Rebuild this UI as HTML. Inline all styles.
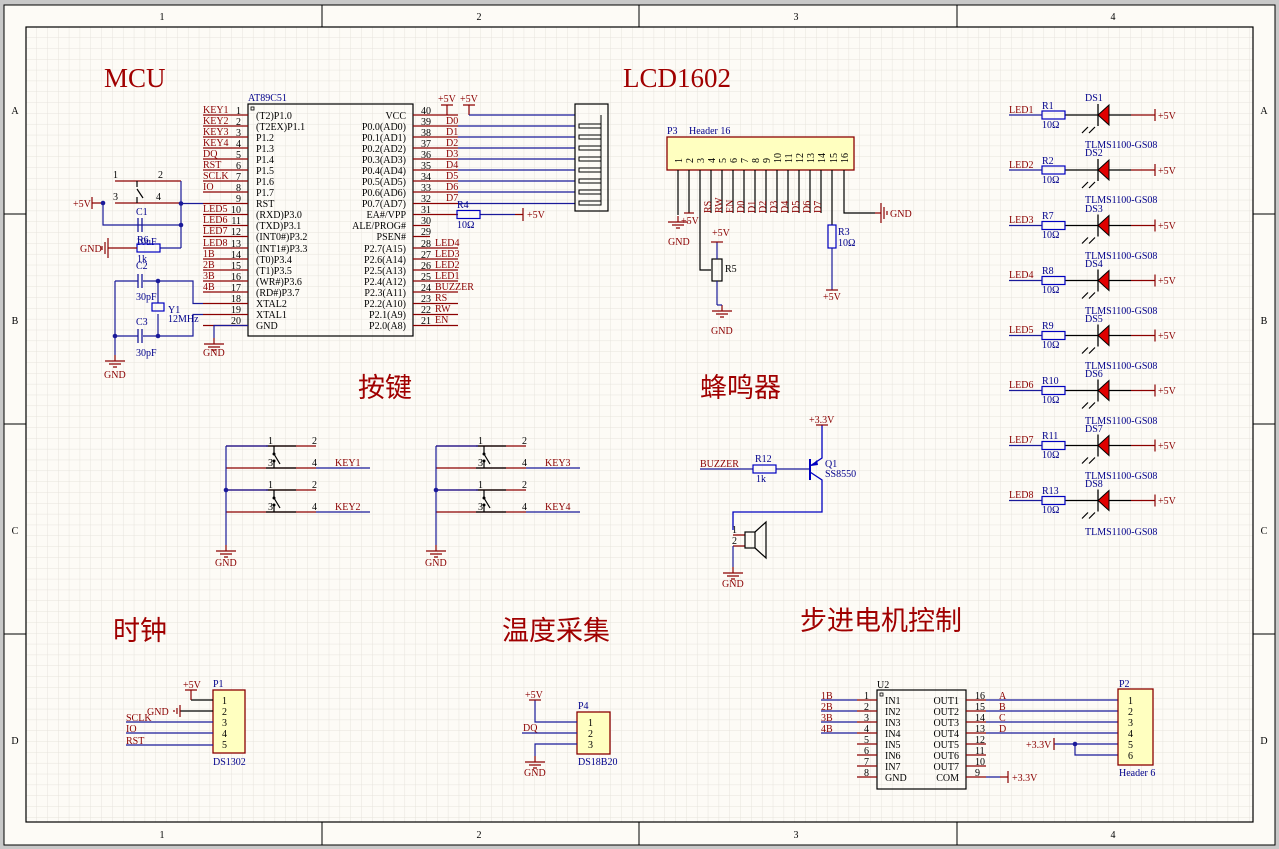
<!DOCTYPE html>
<html><head><meta charset="utf-8"><style>
html,body{margin:0;padding:0;background:#c8c8c8}
svg{display:block}
text{font-family:"Liberation Serif","Noto Serif CJK SC",serif;font-size:10px}
.r{fill:#8b0000}.b{fill:#00008b}.k{fill:#000}
.t{font-family:"Liberation Serif","Noto Serif CJK SC",serif;font-size:27px;fill:#a00000}
.tc{font-family:"Noto Sans CJK SC","WenQuanYi Zen Hei",sans-serif;font-size:27px;fill:#a00000}
.w{stroke:#1a1a9a;stroke-width:1.2;fill:none}
.p{stroke:#8b0000;stroke-width:1.2;fill:none}
.k1{stroke:#000;stroke-width:1.2;fill:none}
.bl{stroke:#0000c0;stroke-width:1.3;fill:none}
.y{fill:#ffffc0;stroke:#8b0000;stroke-width:1.3}
.m{font-family:"Liberation Mono","Noto Sans CJK SC",monospace;font-size:10px}
</style></head><body>
<svg width="1279" height="849" viewBox="0 0 1279 849" xmlns="http://www.w3.org/2000/svg">
<defs>
<pattern id="g" x="26" y="27" width="10.83" height="10.83" patternUnits="userSpaceOnUse">
<path d="M10.83 0V10.83H0" fill="none" stroke="#e6e3dc" stroke-width="1"/></pattern>
<g id="gnd"><path d="M0 0V6M-10 6H10M-6 9H6M-2 12H2" class="p"/></g>
<g id="gndh"><path d="M0 0H6M6 -10V10M9 -6V6M12 -2V2" class="p"/></g>
<g id="gndl"><path d="M0 0H-6M-6 -10V10M-9 -6V6M-12 -2V2" class="p"/></g>
<g id="res"><rect x="0" y="-4" width="23" height="8" fill="none" stroke="#0000c0" stroke-width="1.2"/></g>
<g id="led"><path d="M-33 0H0M11 0H33" class="k1"/><path d="M0 -11V11" stroke="#000" stroke-width="1.3"/><path d="M0 0L11 -10V10Z" fill="#e00000" stroke="#000" stroke-width="1"/><path d="M33 0H57" class="p"/><path d="M57 -6V6" class="p"/><path d="M-10 12l-6 6M-3 12l-6 6" stroke="#000" stroke-width="1.2"/></g>
<g id="sw"><path d="M0 0H90M0 22H90" class="p"/><path d="M40 0H70M40 22H70" class="k1"/><path d="M48 0V7M48 16V22M48 8L54 18" class="k1"/><circle cx="48" cy="8" r="1.5"/><circle cx="48" cy="15" r="1.5"/></g>
</defs>
<rect x="4" y="5" width="1271" height="840" fill="#fdfbf6" stroke="#000" stroke-width="1"/>
<rect x="26" y="27" width="1227" height="795" fill="url(#g)" stroke="#000" stroke-width="1.2"/>
<path d="M322 5V27M639 5V27M957 5V27M322 822V845M639 822V845M957 822V845M4 214H26M4 424H26M4 634H26M1253 214H1275M1253 424H1275M1253 634H1275" stroke="#000"/>
<g class="k" text-anchor="middle"><text x="162" y="20">1</text><text x="479" y="20">2</text><text x="796" y="20">3</text><text x="1113" y="20">4</text><text x="162" y="838">1</text><text x="479" y="838">2</text><text x="796" y="838">3</text><text x="1113" y="838">4</text>
<text x="15" y="114">A</text><text x="15" y="324">B</text><text x="15" y="534">C</text><text x="15" y="744">D</text><text x="1264" y="114">A</text><text x="1264" y="324">B</text><text x="1264" y="534">C</text><text x="1264" y="744">D</text></g>

<text x="104" y="87" class="t">MCU</text><text x="623" y="87" class="t">LCD1602</text>
<text x="358" y="397" class="tc">按键</text><text x="700" y="397" class="tc">蜂鸣器</text>
<text x="113" y="640" class="tc">时钟</text><text x="502" y="640" class="tc">温度采集</text><text x="800" y="630" class="tc">步进电机控制</text>

<!-- AT89C51 -->
<rect x="248" y="104" width="165" height="232" fill="none" stroke="#000" stroke-width="1.2"/>
<rect x="251" y="107" width="3" height="3" fill="none" stroke="#000" stroke-width="0.8"/>
<text x="248" y="101" class="b">AT89C51</text>
<path class="p" d="M203 115H248M203 126H248M203 137H248M203 148H248M203 159H248M203 170H248M203 181H248M203 192H248M203 203.5H248M203 214.5H248M203 225.5H248M203 236.5H248M203 248H248M203 259H248M203 270H248M203 281H248M203 292H248M203 303.5H248M203 314.5H248M203 325.5H248"/>
<path class="p" d="M413 115H458M413 126H458M413 137H458M413 148H458M413 159H458M413 170H458M413 181H458M413 192H458M413 203.5H458M413 214.5H458M413 225.5H430M413 236.5H430M413 248H458M413 259H458M413 270H458M413 281H458M413 292H458M413 303.5H458M413 314.5H458M413 325.5H458"/>
<g class="r"><text x="203" y="113">KEY1</text><text x="203" y="124">KEY2</text><text x="203" y="135">KEY3</text><text x="203" y="146">KEY4</text><text x="203" y="157">DQ</text><text x="203" y="168">RST</text><text x="203" y="179">SCLK</text><text x="203" y="190">IO</text><text x="203" y="212">LED5</text><text x="203" y="223">LED6</text><text x="203" y="234">LED7</text><text x="203" y="246">LED8</text><text x="203" y="257">1B</text><text x="203" y="268">2B</text><text x="203" y="279">3B</text><text x="203" y="290">4B</text>
<text x="446" y="124">D0</text><text x="446" y="135">D1</text><text x="446" y="146">D2</text><text x="446" y="157">D3</text><text x="446" y="168">D4</text><text x="446" y="179">D5</text><text x="446" y="190">D6</text><text x="446" y="201">D7</text>
<text x="435" y="246">LED4</text><text x="435" y="257">LED3</text><text x="435" y="268">LED2</text><text x="435" y="279">LED1</text><text x="435" y="290">BUZZER</text><text x="435" y="301">RS</text><text x="435" y="312">RW</text><text x="435" y="323">EN</text></g>
<g class="k" text-anchor="end"><text x="241" y="114">1</text><text x="241" y="125">2</text><text x="241" y="136">3</text><text x="241" y="147">4</text><text x="241" y="158">5</text><text x="241" y="169">6</text><text x="241" y="180">7</text><text x="241" y="191">8</text><text x="241" y="202">9</text><text x="241" y="213">10</text><text x="241" y="224">11</text><text x="241" y="235">12</text><text x="241" y="247">13</text><text x="241" y="258">14</text><text x="241" y="269">15</text><text x="241" y="280">16</text><text x="241" y="291">17</text><text x="241" y="302">18</text><text x="241" y="313">19</text><text x="241" y="324">20</text></g>
<g class="k"><text x="421" y="114">40</text><text x="421" y="125">39</text><text x="421" y="136">38</text><text x="421" y="147">37</text><text x="421" y="158">36</text><text x="421" y="169">35</text><text x="421" y="180">34</text><text x="421" y="191">33</text><text x="421" y="202">32</text><text x="421" y="213">31</text><text x="421" y="224">30</text><text x="421" y="235">29</text><text x="421" y="247">28</text><text x="421" y="258">27</text><text x="421" y="269">26</text><text x="421" y="280">25</text><text x="421" y="291">24</text><text x="421" y="302">23</text><text x="421" y="313">22</text><text x="421" y="324">21</text></g>
<g class="k m"><text x="256" y="119">(T2)P1.0</text><text x="256" y="130">(T2EX)P1.1</text><text x="256" y="141">P1.2</text><text x="256" y="152">P1.3</text><text x="256" y="163">P1.4</text><text x="256" y="174">P1.5</text><text x="256" y="185">P1.6</text><text x="256" y="196">P1.7</text><text x="256" y="207">RST</text><text x="256" y="218">(RXD)P3.0</text><text x="256" y="229">(TXD)P3.1</text><text x="256" y="240">(INT0#)P3.2</text><text x="256" y="252">(INT1#)P3.3</text><text x="256" y="263">(T0)P3.4</text><text x="256" y="274">(T1)P3.5</text><text x="256" y="285">(WR#)P3.6</text><text x="256" y="296">(RD#)P3.7</text><text x="256" y="307">XTAL2</text><text x="256" y="318">XTAL1</text><text x="256" y="329">GND</text></g>
<g class="k m" text-anchor="end"><text x="406" y="119">VCC</text><text x="406" y="130">P0.0(AD0)</text><text x="406" y="141">P0.1(AD1)</text><text x="406" y="152">P0.2(AD2)</text><text x="406" y="163">P0.3(AD3)</text><text x="406" y="174">P0.4(AD4)</text><text x="406" y="185">P0.5(AD5)</text><text x="406" y="196">P0.6(AD6)</text><text x="406" y="207">P0.7(AD7)</text><text x="406" y="218">EA#/VPP</text><text x="406" y="229">ALE/PROG#</text><text x="406" y="240">PSEN#</text><text x="406" y="252">P2.7(A15)</text><text x="406" y="263">P2.6(A14)</text><text x="406" y="274">P2.5(A13)</text><text x="406" y="285">P2.4(A12)</text><text x="406" y="296">P2.3(A11)</text><text x="406" y="307">P2.2(A10)</text><text x="406" y="318">P2.1(A9)</text><text x="406" y="329">P2.0(A8)</text></g>
<path class="p" d="M447 115V105M441 105H453M469 115V105M463 105H475"/>
<text x="438" y="102" class="r">+5V</text><text x="460" y="102" class="r">+5V</text>
<path class="w" d="M469 115H575M458 126H575M458 137H575M458 148H575M458 159H575M458 170H575M458 181H575M458 192H575M458 203.5H575"/>
<rect x="575" y="104" width="33" height="107" fill="none" stroke="#000" stroke-width="1.2"/>
<g fill="none" stroke="#000" stroke-width="1"><rect x="579" y="124" width="22" height="4"/><rect x="579" y="135" width="22" height="4"/><rect x="579" y="146" width="22" height="4"/><rect x="579" y="157" width="22" height="4"/><rect x="579" y="168" width="22" height="4"/><rect x="579" y="179" width="22" height="4"/><rect x="579" y="190" width="22" height="4"/><rect x="579" y="201" width="22" height="4"/><path d="M601 115V205"/></g>
<path class="w" d="M480 214.5H515"/><use href="#res" x="457" y="214.5"/>
<path class="p" d="M515 214.5H523M523 208V221"/><text x="527" y="218" class="r">+5V</text>
<text x="457" y="208" class="b">R4</text><text x="457" y="228" class="b">10Ω</text>
<path class="p" d="M115 181H181M115 203H181"/>
<path class="k1" d="M137 181V187M137 197V203M137 189L143 198"/>
<text x="113" y="178" class="k">1</text><text x="158" y="178" class="k">2</text><text x="113" y="200" class="k">3</text><text x="156" y="200" class="k">4</text>
<path class="w" d="M181 181V248M181 203.5H203M103 203V225H181M160 248H181M115 281H138M143 281H193V303.5H203M115 281V336H138M143 336H193V314.5H203"/>
<path class="p" d="M92 203H103M92 197V209"/><text x="73" y="207" class="r">+5V</text>
<circle cx="103" cy="203" r="2.3" fill="#1a1a9a"/><circle cx="181" cy="203.5" r="2.3" fill="#1a1a9a"/><circle cx="181" cy="225" r="2.3" fill="#1a1a9a"/><circle cx="158" cy="281" r="2.3" fill="#1a1a9a"/><circle cx="158" cy="336" r="2.3" fill="#1a1a9a"/><circle cx="115" cy="336" r="2.3" fill="#1a1a9a"/>
<path d="M138 218V232M142 218V232M138 274V288M142 274V288M138 329V343M142 329V343" stroke="#1a1a9a" stroke-width="1.3"/>
<text x="136" y="215" class="b">C1</text><text x="136" y="245" class="b">10uF</text><text x="136" y="269" class="b">C2</text><text x="136" y="300" class="b">30pF</text><text x="136" y="325" class="b">C3</text><text x="136" y="356" class="b">30pF</text>
<use href="#res" x="137" y="248"/><text x="137" y="243" class="b">R6</text><text x="137" y="262" class="b">1k</text>
<path class="p" d="M114 248H137"/><use href="#gndl" x="114" y="248"/><text x="80" y="252" class="r">GND</text>
<path class="w" d="M158 281V303M158 314V336"/><rect x="152" y="303" width="12" height="8" fill="none" stroke="#0000c0" stroke-width="1.2"/>
<text x="168" y="313" class="b">Y1</text><text x="168" y="322" class="b">12MHz</text>
<path class="w" d="M115 336V355"/><use href="#gnd" x="115" y="355"/><text x="104" y="378" class="r">GND</text>
<path class="w" d="M248 325.5H214V338"/><use href="#gnd" x="214" y="338"/><text x="203" y="356" class="r">GND</text>
<rect x="667" y="137" width="187" height="33" class="y"/>
<text x="667" y="134" class="b">P3</text><text x="689" y="134" class="b">Header 16</text>
<g class="k" font-size="9">
<text transform="translate(682,163) rotate(-90)">1</text><text transform="translate(693,163) rotate(-90)">2</text><text transform="translate(704,163) rotate(-90)">3</text><text transform="translate(715,163) rotate(-90)">4</text><text transform="translate(726,163) rotate(-90)">5</text><text transform="translate(737,163) rotate(-90)">6</text><text transform="translate(748,163) rotate(-90)">7</text><text transform="translate(759,163) rotate(-90)">8</text><text transform="translate(770,163) rotate(-90)">9</text><text transform="translate(781,163) rotate(-90)">10</text><text transform="translate(792,163) rotate(-90)">11</text><text transform="translate(803,163) rotate(-90)">12</text><text transform="translate(814,163) rotate(-90)">13</text><text transform="translate(825,163) rotate(-90)">14</text><text transform="translate(837,163) rotate(-90)">15</text><text transform="translate(848,163) rotate(-90)">16</text></g>
<path class="k1" d="M678 170V215M689 170V213M700 170V270H711M711 170V213M722 170V213M733 170V213M744 170V213M755 170V213M766 170V213M777 170V213M788 170V213M799 170V213M810 170V213M821 170V213M832 170V225M844 170V213H875"/>
<use href="#gnd" x="678" y="216"/><text x="668" y="245" class="r">GND</text>
<path class="p" d="M684 213H694"/><text x="681" y="224" class="r">+5V</text>
<g class="r"><text transform="translate(711,213) rotate(-90)">RS</text><text transform="translate(722,213) rotate(-90)">RW</text><text transform="translate(733,213) rotate(-90)">EN</text><text transform="translate(744,213) rotate(-90)">D0</text><text transform="translate(755,213) rotate(-90)">D1</text><text transform="translate(766,213) rotate(-90)">D2</text><text transform="translate(777,213) rotate(-90)">D3</text><text transform="translate(788,213) rotate(-90)">D4</text><text transform="translate(799,213) rotate(-90)">D5</text><text transform="translate(810,213) rotate(-90)">D6</text><text transform="translate(821,213) rotate(-90)">D7</text></g>
<rect x="828" y="225" width="8" height="23" fill="none" stroke="#0000c0" stroke-width="1.2"/>
<text x="838" y="235" class="b">R3</text><text x="838" y="246" class="b">10Ω</text>
<path class="w" d="M832 248V290"/><path class="p" d="M826 290H838"/><text x="823" y="300" class="r">+5V</text>
<use href="#gndh" x="875" y="213"/><text x="890" y="217" class="r">GND</text>
<rect x="712" y="259" width="10" height="22" fill="none" stroke="#000" stroke-width="1.2"/><text x="725" y="272" class="k" font-size="7">R5</text>
<path class="w" d="M717 259V242M717 281V305"/><path class="p" d="M711 242H723"/><text x="712" y="236" class="r">+5V</text>
<use href="#gnd" x="722" y="305"/><path class="w" d="M717 305H722"/><text x="711" y="334" class="r">GND</text>
<g>
<use href="#led" x="1098" y="115"/><use href="#led" x="1098" y="170"/><use href="#led" x="1098" y="225.5"/><use href="#led" x="1098" y="280.5"/><use href="#led" x="1098" y="335.5"/><use href="#led" x="1098" y="390.5"/><use href="#led" x="1098" y="445.5"/><use href="#led" x="1098" y="500.5"/>
<use href="#res" x="1042" y="115"/><use href="#res" x="1042" y="170"/><use href="#res" x="1042" y="225.5"/><use href="#res" x="1042" y="280.5"/><use href="#res" x="1042" y="335.5"/><use href="#res" x="1042" y="390.5"/><use href="#res" x="1042" y="445.5"/><use href="#res" x="1042" y="500.5"/>
<path class="w" d="M1009 115H1042M1009 170H1042M1009 225.5H1042M1009 280.5H1042M1009 335.5H1042M1009 390.5H1042M1009 445.5H1042M1009 500.5H1042"/>
</g>
<g class="r"><text x="1009" y="113">LED1</text><text x="1009" y="168">LED2</text><text x="1009" y="223">LED3</text><text x="1009" y="278">LED4</text><text x="1009" y="333">LED5</text><text x="1009" y="388">LED6</text><text x="1009" y="443">LED7</text><text x="1009" y="498">LED8</text>
<text x="1158" y="119">+5V</text><text x="1158" y="174">+5V</text><text x="1158" y="229">+5V</text><text x="1158" y="284">+5V</text><text x="1158" y="339">+5V</text><text x="1158" y="394">+5V</text><text x="1158" y="449">+5V</text><text x="1158" y="504">+5V</text></g>
<g class="b"><text x="1042" y="109">R1</text><text x="1042" y="164">R2</text><text x="1042" y="219">R7</text><text x="1042" y="274">R8</text><text x="1042" y="329">R9</text><text x="1042" y="384">R10</text><text x="1042" y="439">R11</text><text x="1042" y="494">R13</text>
<text x="1042" y="128">10Ω</text><text x="1042" y="183">10Ω</text><text x="1042" y="238">10Ω</text><text x="1042" y="293">10Ω</text><text x="1042" y="348">10Ω</text><text x="1042" y="403">10Ω</text><text x="1042" y="458">10Ω</text><text x="1042" y="513">10Ω</text>
<text x="1085" y="101">DS1</text><text x="1085" y="156">DS2</text><text x="1085" y="212">DS3</text><text x="1085" y="267">DS4</text><text x="1085" y="322">DS5</text><text x="1085" y="377">DS6</text><text x="1085" y="432">DS7</text><text x="1085" y="487">DS8</text>
<text x="1085" y="148">TLMS1100-GS08</text><text x="1085" y="203">TLMS1100-GS08</text><text x="1085" y="259">TLMS1100-GS08</text><text x="1085" y="314">TLMS1100-GS08</text><text x="1085" y="369">TLMS1100-GS08</text><text x="1085" y="424">TLMS1100-GS08</text><text x="1085" y="479">TLMS1100-GS08</text><text x="1085" y="535">TLMS1100-GS08</text></g>
<use href="#sw" x="226" y="446"/><use href="#sw" x="226" y="490"/><use href="#sw" x="436" y="446"/><use href="#sw" x="436" y="490"/>
<path class="w" d="M226 446H268M226 446V545M226 490H268M316 468H370M316 512H370M436 446H478M436 446V545M436 490H478M526 468H580M526 512H580"/>
<circle cx="226" cy="490" r="2.3" fill="#1a1a9a"/><circle cx="436" cy="490" r="2.3" fill="#1a1a9a"/>
<g class="k"><text x="268" y="444">1</text><text x="312" y="444">2</text><text x="268" y="466">3</text><text x="312" y="466">4</text><text x="268" y="488">1</text><text x="312" y="488">2</text><text x="268" y="510">3</text><text x="312" y="510">4</text>
<text x="478" y="444">1</text><text x="522" y="444">2</text><text x="478" y="466">3</text><text x="522" y="466">4</text><text x="478" y="488">1</text><text x="522" y="488">2</text><text x="478" y="510">3</text><text x="522" y="510">4</text></g>
<g class="r"><text x="335" y="466">KEY1</text><text x="335" y="510">KEY2</text><text x="545" y="466">KEY3</text><text x="545" y="510">KEY4</text></g>
<use href="#gnd" x="226" y="545"/><text x="215" y="566" class="r">GND</text><use href="#gnd" x="436" y="545"/><text x="425" y="566" class="r">GND</text>
<text x="700" y="467" class="r">BUZZER</text><path class="w" d="M700 469H753M776 469H810"/><use href="#res" x="753" y="469"/>
<text x="755" y="462" class="b">R12</text><text x="756" y="482" class="b">1k</text>
<path d="M810 459V480" stroke="#0000c0" stroke-width="2"/><path class="bl" d="M810 466L822 458V425M810 472L822 480V512H733V530"/><path d="M811 466l6-6 1 5z" fill="#0000c0"/>
<path class="p" d="M816 425H828"/><text x="809" y="423" class="r">+3.3V</text>
<text x="825" y="467" class="b">Q1</text><text x="825" y="477" class="b">SS8550</text>
<path class="p" d="M733 535H745M733 546H745"/><path class="w" d="M733 546V567"/>
<rect x="745" y="532" width="10" height="16" fill="none" stroke="#000" stroke-width="1.2"/><path d="M755 532L766 522V558L755 548" fill="none" stroke="#000" stroke-width="1.2"/>
<text x="732" y="533" class="k">1</text><text x="732" y="544" class="k">2</text>
<use href="#gnd" x="733" y="567"/><text x="722" y="587" class="r">GND</text>
<rect x="213" y="690" width="32" height="63" class="y"/>
<text x="213" y="687" class="b">P1</text><text x="213" y="765" class="b">DS1302</text>
<g class="k"><text x="222" y="704">1</text><text x="222" y="715">2</text><text x="222" y="726">3</text><text x="222" y="737">4</text><text x="222" y="748">5</text></g>
<path class="k1" d="M191 700H213M180 711H213"/><path class="p" d="M191 690V700M185 690H197"/><text x="183" y="688" class="r">+5V</text>
<path class="p" d="M180 705V717M177 708V714M174 710V712"/><text x="147" y="715" class="r">GND</text>
<path class="w" d="M126 722H213M126 733H213M126 745H213"/>
<g class="r"><text x="126" y="721">SCLK</text><text x="126" y="732">IO</text><text x="126" y="744">RST</text></g>
<rect x="577" y="712" width="33" height="42" class="y"/>
<text x="578" y="709" class="b">P4</text><text x="578" y="765" class="b">DS18B20</text>
<g class="k"><text x="588" y="726">1</text><text x="588" y="737">2</text><text x="588" y="748">3</text></g>
<path class="w" d="M535 700V722H577M522 733H577M535 756V744H577"/><path class="p" d="M529 700H541"/><text x="525" y="698" class="r">+5V</text>
<text x="523" y="731" class="r">DQ</text><use href="#gnd" x="535" y="756"/><text x="524" y="776" class="r">GND</text>
<rect x="877" y="690" width="89" height="99" fill="none" stroke="#000" stroke-width="1.2"/>
<rect x="880" y="693" width="3" height="3" fill="none" stroke="#000" stroke-width="0.8"/>
<text x="877" y="688" class="k" font-size="7">U2</text>
<path class="w" d="M821 700H857M821 711H857M821 722H857M821 733H857M986 700H1118M986 711H1118M986 722H1118M986 733H1118M1054 744H1118M1075 744V755H1118M986 777H1000"/>
<path class="p" d="M857 700H877M857 711H877M857 722H877M857 733H877M857 744H877M857 755H877M857 766H877M857 777H877M966 700H986M966 711H986M966 722H986M966 733H986M966 744H986M966 755H986M966 766H986M966 777H986"/>
<circle cx="1075" cy="744" r="2.3" fill="#1a1a9a"/>
<path class="p" d="M1000 777H1008M1008 771V783M1054 738V750"/>
<text x="1012" y="781" class="r">+3.3V</text><text x="1026" y="748" class="r">+3.3V</text>
<g class="r"><text x="821" y="699">1B</text><text x="821" y="710">2B</text><text x="821" y="721">3B</text><text x="821" y="732">4B</text><text x="999" y="699">A</text><text x="999" y="710">B</text><text x="999" y="721">C</text><text x="999" y="732">D</text></g>
<g class="k"><text x="864" y="699">1</text><text x="864" y="710">2</text><text x="864" y="721">3</text><text x="864" y="732">4</text><text x="864" y="743">5</text><text x="864" y="754">6</text><text x="864" y="765">7</text><text x="864" y="776">8</text>
<text x="975" y="699">16</text><text x="975" y="710">15</text><text x="975" y="721">14</text><text x="975" y="732">13</text><text x="975" y="743">12</text><text x="975" y="754">11</text><text x="975" y="765">10</text><text x="975" y="776">9</text></g>
<g class="k m" font-size="9"><text x="885" y="704">IN1</text><text x="885" y="715">IN2</text><text x="885" y="726">IN3</text><text x="885" y="737">IN4</text><text x="885" y="748">IN5</text><text x="885" y="759">IN6</text><text x="885" y="770">IN7</text><text x="885" y="781">GND</text></g>
<g class="k m" font-size="9" text-anchor="end"><text x="959" y="704">OUT1</text><text x="959" y="715">OUT2</text><text x="959" y="726">OUT3</text><text x="959" y="737">OUT4</text><text x="959" y="748">OUT5</text><text x="959" y="759">OUT6</text><text x="959" y="770">OUT7</text><text x="959" y="781">COM</text></g>
<rect x="1118" y="689" width="35" height="76" class="y"/>
<text x="1119" y="687" class="b">P2</text><text x="1119" y="776" class="b">Header 6</text>
<g class="k"><text x="1128" y="704">1</text><text x="1128" y="715">2</text><text x="1128" y="726">3</text><text x="1128" y="737">4</text><text x="1128" y="748">5</text><text x="1128" y="759">6</text></g>
</svg>
</body></html>
